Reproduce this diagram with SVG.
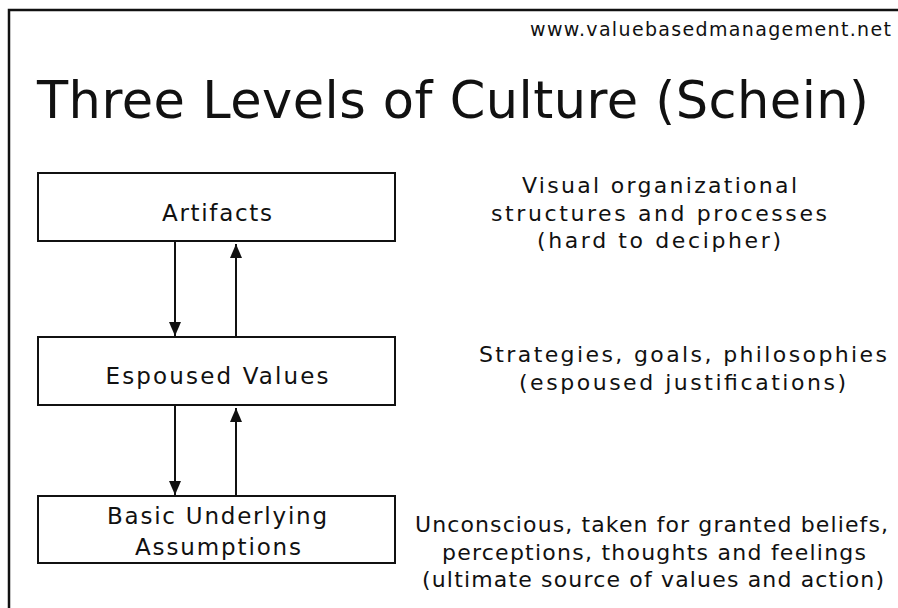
<svg xmlns="http://www.w3.org/2000/svg" width="898" height="608" viewBox="0 0 898 608">
<defs>
<style>
text{font-family:"DejaVu Sans","Liberation Sans",sans-serif;fill:#111}
.box{fill:#fff;stroke:#111;stroke-width:2}
.lbl{font-size:23px;text-anchor:middle}
.desc{font-size:22px;text-anchor:middle}
.conn{stroke:#111;stroke-width:2;fill:none;marker-end:url(#ah)}
</style>
<marker id="ah" viewBox="0 0 14 12" refX="14" refY="6" markerWidth="14" markerHeight="12" markerUnits="userSpaceOnUse" orient="auto">
<path d="M0,0 L14,6 L0,12 Z" fill="#111"/>
</marker>
</defs>
<rect x="0" y="0" width="898" height="608" fill="#fff"/>
<rect x="9" y="10" width="900" height="610" fill="none" stroke="#111" stroke-width="2.5"/>
<text x="891" y="36" font-size="19" text-anchor="end" textLength="361" lengthAdjust="spacing">www.valuebasedmanagement.net</text>
<text x="37" y="118" font-size="51" textLength="832" lengthAdjust="spacing">Three Levels of Culture (Schein)</text>
<g id="artifacts">
<rect class="box" x="38" y="173" width="357" height="68"/>
<text class="lbl" x="217" y="221" textLength="110" lengthAdjust="spacing">Artifacts</text>
</g>
<g id="espoused">
<rect class="box" x="38" y="337" width="357" height="68"/>
<text class="lbl" x="217" y="384" textLength="223" lengthAdjust="spacing">Espoused Values</text>
</g>
<g id="basic">
<rect class="box" x="38" y="496" width="357" height="67"/>
<text class="lbl" x="217" y="524" textLength="220" lengthAdjust="spacing">Basic Underlying</text>
<text class="lbl" x="218" y="555" textLength="166" lengthAdjust="spacing">Assumptions</text>
</g>
<g id="desc-artifacts">
<text class="desc" x="659.5" y="193" textLength="275" lengthAdjust="spacing">Visual organizational</text>
<text class="desc" x="659" y="221" textLength="336" lengthAdjust="spacing">structures and processes</text>
<text class="desc" x="659" y="248" textLength="244" lengthAdjust="spacing">(hard to decipher)</text>
</g>
<g id="desc-espoused">
<text class="desc" x="683" y="362" textLength="408" lengthAdjust="spacing">Strategies, goals, philosophies</text>
<text class="desc" x="682.5" y="390" textLength="327" lengthAdjust="spacing">(espoused justifications)</text>
</g>
<g id="desc-basic">
<text class="desc" x="651.5" y="532" textLength="473" lengthAdjust="spacing">Unconscious, taken for granted beliefs,</text>
<text class="desc" x="654" y="560" textLength="424" lengthAdjust="spacing">perceptions, thoughts and feelings</text>
<text class="desc" x="653" y="587" textLength="462" lengthAdjust="spacing">(ultimate source of values and action)</text>
</g>
<g id="connectors">
<line class="conn" x1="175" y1="242" x2="175" y2="336"/>
<line class="conn" x1="236" y1="336" x2="236" y2="244"/>
<line class="conn" x1="175" y1="406" x2="175" y2="495"/>
<line class="conn" x1="236" y1="495" x2="236" y2="408"/>
</g>
</svg>
